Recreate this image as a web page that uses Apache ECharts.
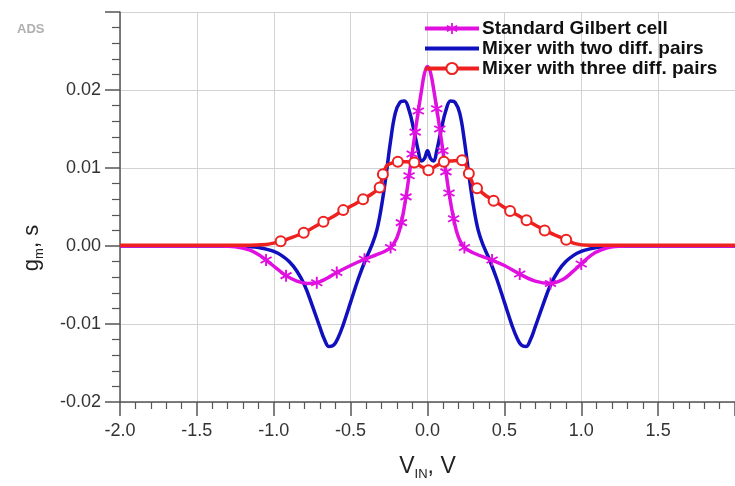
<!DOCTYPE html>
<html>
<head>
<meta charset="utf-8">
<script src="https://cdn.jsdelivr.net/npm/echarts@6/dist/echarts.min.js"></script>
<style>html,body{margin:0;padding:0;background:#fff}#c{width:735px;height:486px}</style>
</head>
<body>
<div id="c"></div>
<script>
// ---- data ----
const seriesNames = ['Standard Gilbert cell', 'Mixer with two diff. pairs', 'Mixer with three diff. pairs'];
const xTicks = ['-2.0', '-1.5', '-1.0', '-0.5', '0.0', '0.5', '1.0', '1.5'];
const yTicks = ['-0.02', '-0.01', '0.00', '0.01', '0.02'];

const gilbertX = [-2.0, -1.5, -1.35, -1.25, -1.16, -1.1, -1.05, -0.98, -0.92, -0.85, -0.78, -0.72, -0.65, -0.59, -0.5, -0.41, -0.33, -0.28, -0.24, -0.2, -0.17, -0.14, -0.12, -0.1, -0.08, -0.06, -0.04, -0.02, 0,
  0.02, 0.04, 0.06, 0.08, 0.1, 0.12, 0.14, 0.17, 0.2, 0.24, 0.3, 0.42, 0.5, 0.6, 0.7, 0.8, 0.88, 0.95, 1.0, 1.07, 1.13, 1.2, 1.3, 1.5, 2.0];
const gilbertY = [0, 0, 0, -0.0001, -0.0005, -0.0011, -0.0018, -0.0029, -0.0038, -0.0045, -0.0048, -0.0047, -0.0041, -0.0034, -0.0025, -0.0017, -0.0011, -0.0007, -0.0002, 0.0010, 0.0030, 0.0063, 0.0090, 0.0118, 0.0146, 0.0173, 0.0198, 0.0221, 0.0230,
  0.0222, 0.0201, 0.0176, 0.0150, 0.0122, 0.0095, 0.0068, 0.0035, 0.0012, -0.0002, -0.0009, -0.0018, -0.0025, -0.0036, -0.0045, -0.0048, -0.0043, -0.0032, -0.0023, -0.0011, -0.0005, -0.0001, 0, 0, 0];
const gilbertMarkX = [-1.05, -0.92, -0.72, -0.59, -0.41, -0.24, -0.17, -0.14, -0.12, -0.1, -0.08, -0.06, 0.06, 0.08, 0.1, 0.12, 0.14, 0.17, 0.24, 0.42, 0.6, 0.8, 1.0];

const twoPairX = [-2.0, -1.5, -1.25, -1.15, -1.1, -1.05, -1.0, -0.95, -0.9, -0.85, -0.8, -0.75, -0.7, -0.67, -0.64, -0.61, -0.58, -0.55, -0.5, -0.45, -0.4, -0.36, -0.33, -0.3, -0.27, -0.24, -0.21, -0.18, -0.15, -0.12, -0.09, -0.06, -0.04, -0.02, 0,
  0.02, 0.04, 0.06, 0.09, 0.12, 0.15, 0.18, 0.21, 0.24, 0.27, 0.3, 0.33, 0.36, 0.4, 0.45, 0.5, 0.55, 0.58, 0.61, 0.64, 0.67, 0.7, 0.75, 0.8, 0.85, 0.9, 0.95, 1.0, 1.05, 1.1, 1.15, 1.25, 1.5, 2.0];
const twoPairY = [0, 0, 0, -0.0001, -0.0002, -0.0004, -0.0007, -0.0012, -0.0020, -0.0032, -0.0050, -0.0076, -0.0104, -0.0120, -0.0129, -0.0127, -0.0117, -0.0102, -0.0072, -0.0042, -0.0016, 0.0002, 0.0020, 0.0050, 0.0090, 0.0135, 0.0170, 0.0184, 0.0186, 0.0174, 0.0150, 0.0122, 0.0109, 0.0112, 0.0122,
  0.0112, 0.0109, 0.0122, 0.0150, 0.0174, 0.0186, 0.0184, 0.0170, 0.0135, 0.0090, 0.0050, 0.0020, 0.0002, -0.0016, -0.0042, -0.0072, -0.0102, -0.0117, -0.0127, -0.0129, -0.0120, -0.0104, -0.0076, -0.0050, -0.0032, -0.0020, -0.0012, -0.0007, -0.0004, -0.0002, -0.0001, 0, 0, 0];

const threePairX = [-2.0, -1.5, -1.2, -1.05, -0.955, -0.88, -0.805, -0.74, -0.677, -0.61, -0.548, -0.48, -0.419, -0.36, -0.311, -0.29, -0.26, -0.193, -0.14, -0.086, -0.04, 0.006, 0.05, 0.107, 0.16, 0.225, 0.25, 0.269, 0.295, 0.322, 0.37, 0.43, 0.48, 0.537, 0.59, 0.644, 0.7, 0.762, 0.83, 0.902, 0.96, 1.05, 1.5, 2.0];
const threePairY = [0.0001, 0.0001, 0.0001, 0.0002, 0.0006, 0.0011, 0.0017, 0.0024, 0.0031, 0.0038, 0.0046, 0.0053, 0.0060, 0.0067, 0.0075, 0.0092, 0.0104, 0.0108, 0.0108, 0.0107, 0.0102, 0.0097, 0.0102, 0.0108, 0.0109, 0.0110, 0.0104, 0.0093, 0.0080, 0.0074, 0.0066, 0.0058, 0.0052, 0.0045, 0.0039, 0.0033, 0.0027, 0.0020, 0.0014, 0.0008, 0.0003, 0.0001, 0.0001, 0.0001];
const threePairMarkX = [-0.955, -0.805, -0.677, -0.548, -0.419, -0.311, -0.29, -0.193, -0.086, 0.006, 0.107, 0.225, 0.269, 0.322, 0.43, 0.537, 0.644, 0.762, 0.902];

// ---- styling ----
const STAR = 'path://M-1.5,-10L1.5,-10L1.5,10L-1.5,10Z M7.91,-6.3L9.41,-3.7L-7.91,6.3L-9.41,3.7Z M9.41,3.7L7.91,6.3L-9.41,-3.7L-7.91,-6.3Z';
const C_MAG = '#e010e0', C_BLUE = '#1010bf', C_RED = '#ee2020';
const FONT = 'Liberation Sans';

function build(xs, ys, marks) {
  return xs.map((x, i) => {
    const on = marks && marks.indexOf(x) >= 0;
    return on ? { value: [x, ys[i]] } : { value: [x, ys[i]], symbol: 'none' };
  });
}

const chart = echarts.init(document.getElementById('c'), null, { renderer: 'canvas' });
chart.setOption({
  animation: false,
  backgroundColor: '#fff',
  title: {
    text: 'ADS', left: 12, top: 18,
    textStyle: { fontSize: 13, fontWeight: 'bold', color: '#b0b0b0', fontFamily: FONT }
  },
  legend: {
    orient: 'vertical', left: 418, top: 14,
    itemWidth: 54, itemHeight: 14, itemGap: 1,
    lineStyle: { width: 4 },
    data: [
      { name: seriesNames[0] },
      { name: seriesNames[1], itemStyle: { opacity: 0 } },
      { name: seriesNames[2] }
    ],
    textStyle: { fontSize: 19, lineHeight: 18, fontWeight: 'bold', color: '#111', fontFamily: FONT, padding: [0, 0, 0, -2] }
  },
  grid: { left: 120, right: -5, top: 12, bottom: 83, containLabel: false },
  xAxis: {
    type: 'value', min: -2.0, max: 2.0, interval: 0.5,
    name: '{v|V}{sub|IN}{v|, V}', nameLocation: 'middle', nameGap: 50,
    nameTextStyle: {
      rich: {
        v: { fontSize: 23, color: '#222', fontFamily: FONT },
        sub: { fontSize: 13, color: '#222', fontFamily: FONT, padding: [16, 0, 0, 0] }
      }
    },
    axisLine: { onZero: false, lineStyle: { color: '#555', width: 1.5 } },
    axisTick: { show: true, length: 14, lineStyle: { color: '#555', width: 1.5 } },
    minorTick: { show: true, splitNumber: 5, length: 7, lineStyle: { color: '#555', width: 1.2 } },
    splitLine: { show: true, lineStyle: { color: '#d2d2d2', width: 1 } },
    axisLabel: {
      margin: 20, fontSize: 18, color: '#333', fontFamily: FONT, showMaxLabel: false,
      formatter: v => { const i = Math.round((v + 2.0) / 0.5); return xTicks[i] !== undefined ? xTicks[i] : ''; }
    }
  },
  yAxis: {
    type: 'value', min: -0.02, max: 0.03, interval: 0.01,
    name: '{g|g}{sub|m}{g|, s}', nameLocation: 'middle', nameGap: 74, nameRotate: 90,
    nameTextStyle: {
      padding: [0, 82, 0, 0],
      rich: {
        g: { fontSize: 22, color: '#222', fontFamily: FONT },
        sub: { fontSize: 13, color: '#222', fontFamily: FONT, padding: [15, 0, 0, 0] }
      }
    },
    axisLine: { show: true, onZero: false, lineStyle: { color: '#555', width: 1.5 } },
    axisTick: { show: true, length: 15, lineStyle: { color: '#555', width: 1.5 } },
    minorTick: { show: true, splitNumber: 5, length: 8, lineStyle: { color: '#555', width: 1.2 } },
    splitLine: { show: true, lineStyle: { color: '#d2d2d2', width: 1 } },
    axisLabel: {
      margin: 19, fontSize: 18, color: '#333', fontFamily: FONT, showMaxLabel: false,
      formatter: v => { const i = Math.round((v + 0.02) / 0.01); return yTicks[i] !== undefined ? yTicks[i] : ''; }
    }
  },
  series: [
    {
      name: seriesNames[1], type: 'line', smooth: 0.4, z: 2,
      data: build(twoPairX, twoPairY, null), symbol: 'none',
      lineStyle: { color: C_BLUE, width: 3.5 }, itemStyle: { color: C_BLUE }
    },
    {
      name: seriesNames[0], type: 'line', smooth: 0.4, z: 3,
      data: build(gilbertX, gilbertY, gilbertMarkX), symbol: STAR, symbolSize: 12, showSymbol: true,
      lineStyle: { color: C_MAG, width: 3.5 }, itemStyle: { color: C_MAG }
    },
    {
      name: seriesNames[2], type: 'line', smooth: 0.2, z: 4,
      data: build(threePairX, threePairY, threePairMarkX), symbol: 'emptyCircle', symbolSize: 10, showSymbol: true,
      lineStyle: { color: C_RED, width: 3.5 }, itemStyle: { color: C_RED, borderColor: C_RED, borderWidth: 2 }
    }
  ]
});
</script>
</body>
</html>
